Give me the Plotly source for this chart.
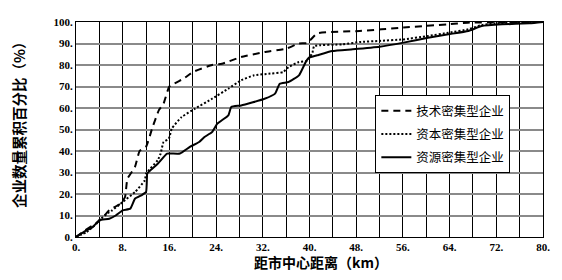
import plotly.graph_objects as go

# Technology-intensive (dashed)
tech_km = [0, 1.5, 4, 5.7, 7.6, 8.4, 8.8, 10.1, 10.9, 12, 13.1, 14.2, 15, 16, 18.4, 20, 23.3, 25, 28.3, 32.3, 36, 38.2, 39.6, 41.3, 48.6, 56.1, 63.6, 67.1, 72, 80]
tech_pct = [0, 3, 7.4, 12.4, 15.5, 18.6, 27, 32.6, 40, 42, 51, 59, 62, 70, 73.6, 76.7, 80, 80.6, 83.7, 86, 87.6, 90, 90.2, 94.7, 95.8, 97.4, 98.9, 99.7, 99.8, 100]

# Capital-intensive (dotted)
cap_km = [0, 1.8, 3.5, 4, 5.7, 6.2, 8, 10.1, 11.8, 12, 14, 14.5, 15, 15.9, 16.4, 18.1, 20.4, 23.3, 26.1, 28.3, 30.5, 33.3, 35.5, 36.4, 38.2, 39.6, 40.5, 40.8, 45.7, 48.6, 52, 56, 60.3, 63.8, 67.2, 69.5, 71.8, 80]
cap_pct = [0, 2.3, 6.2, 7.8, 11.6, 12.4, 16.3, 20.9, 26.4, 29.5, 35.7, 38.8, 44.2, 45.7, 50.4, 55.8, 59.7, 64.3, 69, 72.9, 75.2, 76, 76.7, 79, 81.4, 81.9, 85.7, 88.8, 89.6, 90.7, 91.2, 91.9, 93.5, 95, 96.6, 98.6, 99.4, 100]

# Resource-intensive (solid)
res_km = [0, 1.3, 2.9, 4, 5.7, 6.8, 8, 9.3, 10.1, 11.2, 12.0, 12.2, 12.4, 14, 15.6, 16.4, 17.8, 19.5, 21.1, 22, 23.3, 24.2, 26.1, 26.6, 28.3, 32.3, 34.1, 34.9, 36.4, 38.2, 39.3, 39.9, 41.3, 43.9, 47.4, 52, 56.1, 60.3, 63.8, 67.2, 69.5, 73, 77.7, 80]
res_pct = [0, 2.3, 4.7, 7.8, 8.5, 10, 12.4, 13.2, 17.8, 19.4, 20.9, 29.5, 30.2, 34.1, 38.8, 38.8, 38.8, 41.9, 44.2, 46.5, 48.8, 52.7, 56.6, 60.5, 61.2, 64.3, 66.7, 71.3, 72.1, 75.2, 81.1, 83.4, 84.5, 86.5, 87.3, 88.5, 90.4, 92.7, 94.3, 95.8, 98.1, 98.9, 99.4, 100]

series_names = ["技术密集型企业", "资本密集型企业", "资源密集型企业"]

x_ticks = list(range(0, 81, 8))
x_ticklabels = [f"<b>{v}.</b>" for v in x_ticks]
y_ticks = list(range(0, 101, 10))
y_ticklabels = [f"<b>{v}.</b>" for v in y_ticks]

fig = go.Figure()
fig.add_trace(go.Scatter(x=tech_km, y=tech_pct, mode="lines", name=series_names[0],
                         line=dict(color="black", width=2, dash="7px,5px", shape="spline", smoothing=0.4),
                         legendgroup="a"))
fig.add_trace(go.Scatter(x=cap_km, y=cap_pct, mode="lines", name=series_names[1],
                         line=dict(color="black", width=2, dash="2px,2px", shape="spline", smoothing=0.4),
                         legendgroup="b"))
fig.add_trace(go.Scatter(x=res_km, y=res_pct, mode="lines", name=series_names[2],
                         line=dict(color="black", width=2, shape="spline", smoothing=0.4),
                         legendgroup="c"))

fig.update_layout(
    width=562, height=280,
    margin=dict(l=76, r=15, t=22, b=43),
    paper_bgcolor="white", plot_bgcolor="white",
    showlegend=True,
    legend=dict(x=0.641, y=0.66, xanchor="left", yanchor="top",
                bgcolor="white", bordercolor="black", borderwidth=1,
                font=dict(family="Noto Sans CJK SC", size=12.5, color="black"),
                tracegroupgap=4),
    xaxis=dict(range=[0, 80], tickmode="array", tickvals=x_ticks, ticktext=x_ticklabels,
               showgrid=True, gridcolor="black", gridwidth=1,
               minor=dict(dtick=4, showgrid=True, gridcolor="black", gridwidth=1),
               showline=True, linecolor="black", linewidth=1, mirror=True,
               ticks="", zeroline=False,
               tickfont=dict(family="Liberation Serif", size=11, color="black")),
    yaxis=dict(range=[0, 100], tickmode="array", tickvals=y_ticks, ticktext=y_ticklabels,
               showgrid=True, gridcolor="#8a8a8a", gridwidth=1.5,
               showline=True, linecolor="black", linewidth=1, mirror=True,
               ticks="", zeroline=False,
               tickfont=dict(family="Liberation Serif", size=11, color="black")),
    annotations=[
        dict(text="<b>距市中心距离（km）</b>", xref="paper", yref="paper",
             x=(323 - 76) / 471, y=0, yshift=-25, xanchor="center", yanchor="middle",
             showarrow=False, font=dict(family="Noto Sans CJK SC", size=14, color="black")),
        dict(text="<b>企业数量累积百分比（%）</b>", xref="paper", yref="paper",
             x=0, xshift=-58, y=(237 - 122) / 215, xanchor="center", yanchor="middle",
             textangle=-90, showarrow=False,
             font=dict(family="Noto Sans CJK SC", size=14.5, color="black")),
    ],
)

fig.write_html("out.html")
